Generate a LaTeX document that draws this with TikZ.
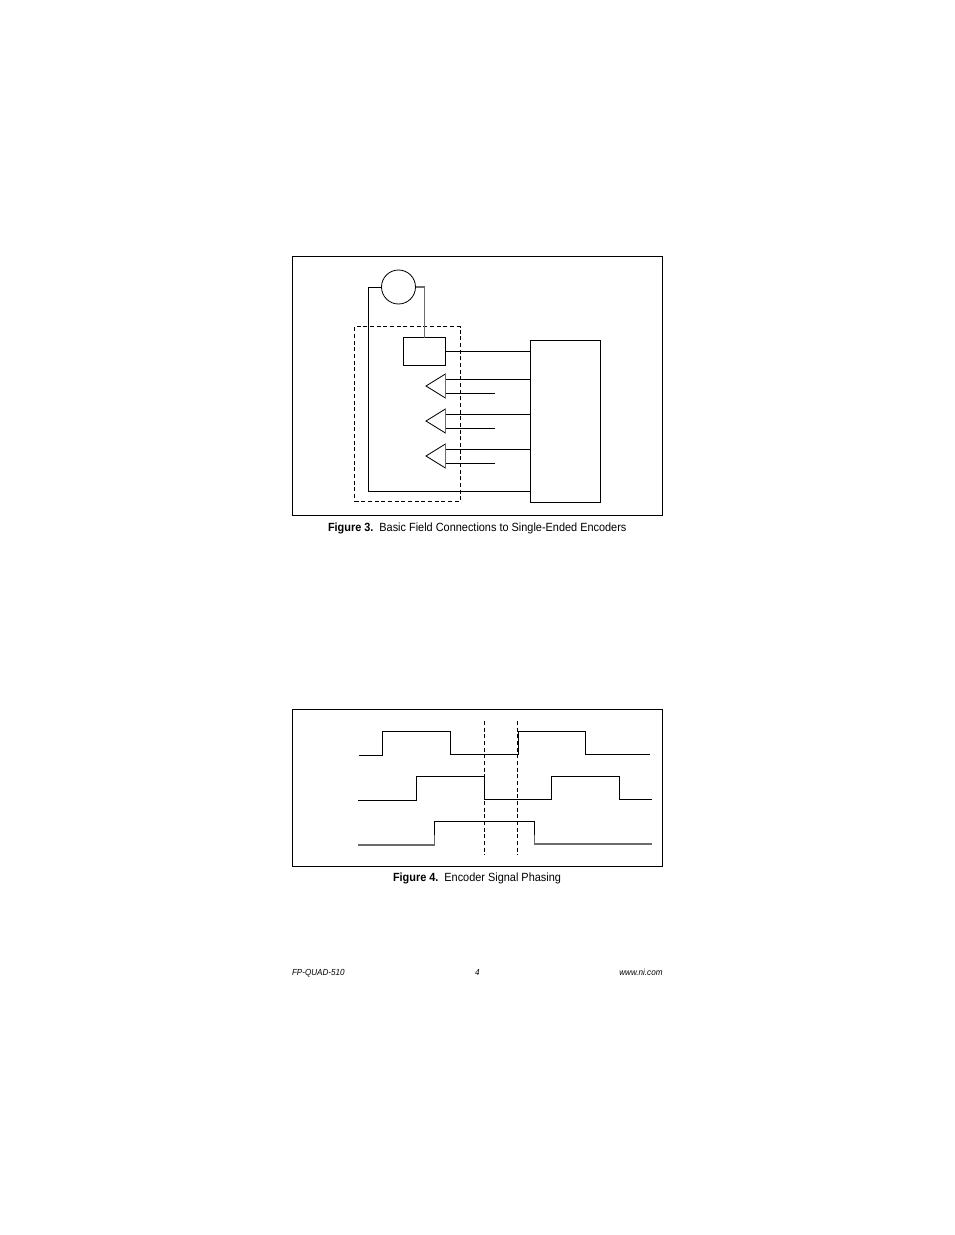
\documentclass[tikz,border=0pt]{standalone}
\usepackage{fontspec}
\setmainfont{Liberation Sans}[FakeStretch=0.92]
\usetikzlibrary{calc}
\definecolor{soft}{gray}{0.42}
\tikzset{
  wire/.style={draw=black,line width=0.72pt},
  thinwire/.style={draw=black,line width=0.62pt},
  softwire/.style={draw=soft,line width=0.85pt},
  guide/.style={draw=black,line width=0.72pt,dash pattern=on 3pt off 2pt},
  boxn/.style={draw=black,line width=0.72pt,rectangle,inner sep=0pt,outer sep=0pt},
  captext/.style={inner sep=0pt,outer sep=0pt,anchor=base west,font=\fontsize{8.9}{10}\selectfont},
  foottext/.style={inner sep=0pt,outer sep=0pt,anchor=base west,font=\fontsize{6.6}{8}\selectfont\itshape},
}
\newcommand{\boxat}[6][boxn]{% style,name,x1,y1,x2,y2
  \node[#1,minimum width={(#5-#3)*0.75pt},minimum height={(#6-#4)*0.75pt}] (#2) at ({(#3+#5)/2},{(#4+#6)/2}) {};}
\begin{document}
\begin{tikzpicture}[x=0.75pt,y=-0.75pt]
\useasboundingbox[fill=white] (0,0) rectangle (954,1235);

% Figure 3
\boxat{frameA}{292.5}{256.5}{662.5}{515.5}
\node[circle,draw=black,line width=0.62pt,minimum size=25.5pt,inner sep=0pt,outer sep=0pt] (sensor) at (398.5,287) {};
\boxat{enc}{403.5}{337.5}{445.5}{365.5}
\boxat{daq}{530.5}{340.5}{600.5}{502}
\boxat[boxn,dash pattern=on 3pt off 2pt]{shield}{354.8}{326.5}{460.2}{501.7}

% Sensor wiring
\coordinate (gnd) at (368.5,491);
\coordinate (encout) at (445.5,351);
\draw[wire] (sensor.west) -- (gnd |- sensor.west) -- (gnd) -- (daq.west |- gnd);
\draw[softwire] (sensor.east) -- (enc.north |- sensor.east) -- (enc.north);
\draw[wire] (encout) -- (daq.west |- encout);

% Drivers
\foreach \n/\c in {1/386,2/421,3/456}{
  \coordinate (tip\n) at (426,\c);
  \coordinate (top\n) at (445.7,\c-12.2);
  \coordinate (bot\n) at (445.7,\c+12.2);
  \coordinate (inA\n) at (445.7,\c-7);
  \coordinate (inB\n) at (445.7,\c+7.3);
  \coordinate (endB\n) at (495,\c+7.3);
  \draw[thinwire] (top\n) -- (tip\n) -- (bot\n);
  \draw[softwire] (top\n) -- (bot\n);
  \draw[wire] (inA\n) -- (daq.west |- inA\n);
  \draw[wire] (inB\n) -- (endB\n);
}
\node[captext] (capA) at (328,531.3) {\textbf{Figure 3.}\hspace{0.5em}Basic Field Connections to Single-Ended Encoders};

% Figure 4
\boxat{frameB}{292.5}{709.5}{662.5}{866.5}
\coordinate (g1a) at (484.4,721); \coordinate (g1b) at (484.4,855);
\coordinate (g2a) at (517.4,721); \coordinate (g2b) at (517.4,855);
\draw[guide] (g1a) -- (g1b);
\draw[guide] (g2a) -- (g2b);
\draw[wire] (359,755.3) -| (382.8,731.2) -| (450.4,754.4) -| (518,731.2) -| (585.7,754.4) -- (650,754.4);
\draw[wire] (358,800.3) -| (416.8,776.3) -| (484.5,799.4) -| (551.4,776.3) -| (619.4,799.4) -- (652,799.4);
\draw[softwire] (358,845) -- (434.4,845) -- (434.4,835);
\draw[wire] (434.4,835) -- (434.4,821.3) -- (534.4,821.3) -- (534.4,835);
\draw[softwire] (534.4,835) -- (534.4,844) -- (652,844);
\node[captext] (capB) at (393,881.3) {\textbf{Figure 4.}\hspace{0.5em}Encoder Signal Phasing};

% Footer
\node[foottext] (fl) at (292,975) {FP-QUAD-510};
\node[foottext] (fc) at (475,975) {4};
\node[foottext,anchor=base east] (fr) at (662.5,975) {www.ni.com};
\end{tikzpicture}
\end{document}
